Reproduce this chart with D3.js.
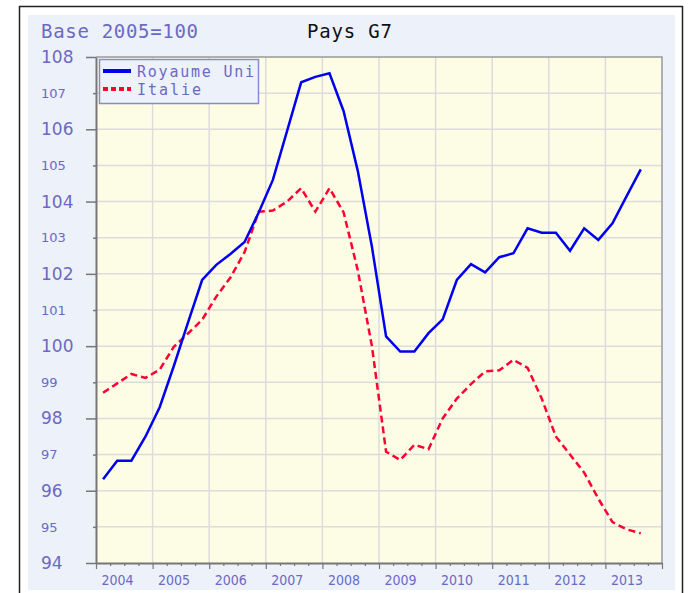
<!DOCTYPE html>
<html>
<head>
<meta charset="utf-8">
<script src="https://cdn.jsdelivr.net/npm/d3@7"></script>
<style>
  body { margin: 0; background: #ffffff; }
</style>
</head>
<body>
<div id="chart"></div>
<script>
// index trimestriel, base 2005=100
const years = [2004, 2005, 2006, 2007, 2008, 2009, 2010, 2011, 2012, 2013];
const yTicks = [94, 95, 96, 97, 98, 99, 100, 101, 102, 103, 104, 105, 106, 107, 108];
const royaumeUni = [
  96.32, 96.83, 96.83, 97.5,
  98.31, 99.45, 100.65, 101.83,
  102.25, 102.55, 102.88, 103.7,
  104.6, 105.95, 107.3, 107.45,
  107.55, 106.5, 104.85, 102.75,
  100.27, 99.85, 99.85, 100.36,
  100.74, 101.83, 102.27, 102.04,
  102.46, 102.57, 103.26, 103.14,
  103.14, 102.64, 103.26, 102.94,
  103.4, 104.15, 104.89
];
const italie = [
  98.71, 98.97, 99.23, 99.12,
  99.35, 99.98, 100.35, 100.73,
  101.37, 101.9, 102.6, 103.72,
  103.75, 104.0, 104.37, 103.72,
  104.37, 103.7, 102.1, 100.0,
  97.08, 96.85, 97.27, 97.15,
  98.0, 98.55, 98.95, 99.3,
  99.33, 99.62, 99.4, 98.55,
  97.5, 97.0, 96.5, 95.78,
  95.13, 94.93, 94.82
];

const W = 690, H = 593;
const plot = { left: 96, right: 662, top: 57, bottom: 563 };

const svg = d3.select("#chart")
  .append("svg")
  .attr("width", W)
  .attr("height", H);

// cadre + fond
svg.append("rect")
  .attr("x", 19.5).attr("y", 6.5)
  .attr("width", 663).attr("height", 600)
  .attr("fill", "#ffffff")
  .attr("stroke", "#222").attr("stroke-width", 1.5);

svg.append("rect")
  .attr("x", 28).attr("y", 15)
  .attr("width", 647).attr("height", 575)
  .attr("fill", "#edf1fa");

const x = d3.scaleLinear().domain([2004, 2014]).range([plot.left, plot.right]);
const y = d3.scaleLinear().domain([94, 108]).range([plot.bottom, plot.top]);

svg.append("rect")
  .attr("x", plot.left).attr("y", plot.top)
  .attr("width", plot.right - plot.left)
  .attr("height", plot.bottom - plot.top)
  .attr("fill", "#fdfde6");

// grille
const grid = svg.append("g").attr("stroke", "#dcdcdc").attr("stroke-width", 1.5);
grid.selectAll(".h")
  .data(yTicks.slice(1, -1))
  .enter().append("line")
  .attr("x1", plot.left).attr("x2", plot.right)
  .attr("y1", (d) => y(d)).attr("y2", (d) => y(d));
grid.selectAll(".v")
  .data(years.slice(1))
  .enter().append("line")
  .attr("y1", plot.top).attr("y2", plot.bottom)
  .attr("x1", (d) => x(d)).attr("x2", (d) => x(d));

// bord haut et droit
svg.append("path")
  .attr("d", `M${plot.left},${plot.top}H${plot.right}V${plot.bottom}`)
  .attr("fill", "none")
  .attr("stroke", "#999")
  .attr("stroke-width", 1.5);

const labelColor = "#6a6ac4";

// axe Y
const yAxis = svg.append("g")
  .attr("transform", `translate(${plot.left},0)`)
  .call(d3.axisLeft(y).tickValues(yTicks).tickSizeOuter(0));
yAxis.select(".domain").attr("stroke", "#777").attr("stroke-width", 2);
yAxis.selectAll(".tick line")
  .attr("stroke", "#777")
  .attr("stroke-width", 1.5)
  .attr("x2", (d) => (d % 2 === 0 ? -10 : -3));
yAxis.selectAll(".tick text")
  .attr("x", -55)
  .attr("text-anchor", "start")
  .attr("fill", labelColor)
  .style("font-family", "'DejaVu Sans', Verdana, sans-serif")
  .style("font-size", (d) => (d % 2 === 0 ? "17px" : "13px"))
  .text((d) => d);

// axe X : années + trimestres
const quarterTicks = d3.range(2004, 2014.01, 0.25);
const xAxis = svg.append("g")
  .attr("transform", `translate(0,${plot.bottom})`)
  .call(d3.axisBottom(x).tickValues(quarterTicks).tickFormat("").tickSizeOuter(0));
xAxis.select(".domain").attr("stroke", "#777").attr("stroke-width", 2);
xAxis.selectAll(".tick line")
  .attr("stroke", "#777")
  .attr("stroke-width", 1.2)
  .attr("y2", (d) => (Math.abs(d - Math.round(d)) < 0.01 ? 6 : 3));

svg.append("g")
  .selectAll("text")
  .data(years)
  .enter().append("text")
  .attr("x", (d) => x(d) + 21.5)
  .attr("y", 585)
  .attr("text-anchor", "middle")
  .attr("fill", labelColor)
  .style("font-family", "'DejaVu Sans Condensed', 'DejaVu Sans', sans-serif")
  .style("font-size", "14px")
  .text((d) => d);

// séries
const qx = (i) => x(2004 + (i + 0.5) / 4);
const line = d3.line().x((d, i) => qx(i)).y((d) => y(d));

svg.append("path")
  .datum(italie)
  .attr("d", line)
  .attr("fill", "none")
  .attr("stroke", "#ff0033")
  .attr("stroke-width", 2.5)
  .attr("stroke-dasharray", "7,4");

svg.append("path")
  .datum(royaumeUni)
  .attr("d", line)
  .attr("fill", "none")
  .attr("stroke", "#0000ee")
  .attr("stroke-width", 2.5);

// titres
svg.append("text")
  .attr("x", 41).attr("y", 38)
  .attr("fill", labelColor)
  .attr("textLength", 157)
  .attr("lengthAdjust", "spacing")
  .style("font-family", "'DejaVu Sans Mono', monospace")
  .style("font-size", "19px")
  .text("Base 2005=100");

svg.append("text")
  .attr("x", 307).attr("y", 38)
  .attr("fill", "#111")
  .attr("textLength", 85)
  .attr("lengthAdjust", "spacing")
  .style("font-family", "'DejaVu Sans Mono', monospace")
  .style("font-size", "19px")
  .text("Pays G7");

// légende
const legend = svg.append("g");
legend.append("rect")
  .attr("x", 99.5).attr("y", 59.5)
  .attr("width", 159).attr("height", 44)
  .attr("fill", "#edf1fa")
  .attr("stroke", "#8a8ad0")
  .attr("stroke-width", 1.5);

const legendItems = [
  { name: "Royaume Uni", color: "#0000ee", dash: null, len: 117 },
  { name: "Italie", color: "#ff0033", dash: "5,3", len: 64 }
];
legendItems.forEach((d, i) => {
  const ly = 71 + i * 18;
  legend.append("line")
    .attr("x1", 103).attr("x2", 131)
    .attr("y1", ly).attr("y2", ly)
    .attr("stroke", d.color)
    .attr("stroke-width", 4)
    .attr("stroke-dasharray", d.dash);
  legend.append("text")
    .attr("x", 137).attr("y", ly + 6)
    .attr("fill", labelColor)
    .attr("textLength", d.len)
    .attr("lengthAdjust", "spacing")
    .style("font-family", "'DejaVu Sans Mono', monospace")
    .style("font-size", "15px")
    .text(d.name);
});
</script>
</body>
</html>
